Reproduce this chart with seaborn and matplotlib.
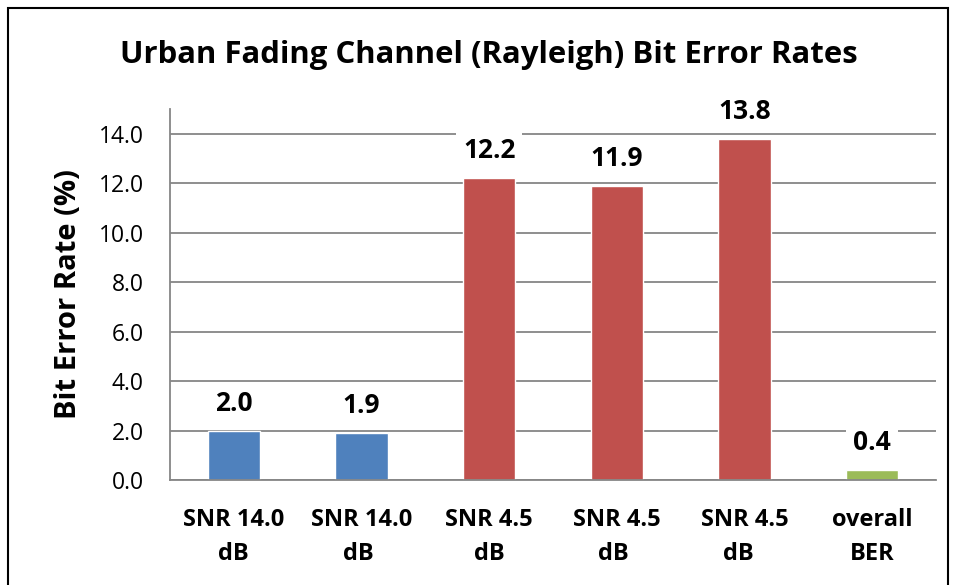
import matplotlib.pyplot as plt
import matplotlib.patches as patches
import pandas as pd
import seaborn as sns

# Valores
categorias = ['SNR 14.0\ndB', 'SNR 14.0\ndB ', 'SNR 4.5\ndB', 'SNR 4.5\ndB ', 'SNR 4.5\ndB  ', 'overall\nBER']
ber = [2.0, 1.9, 12.2, 11.9, 13.8, 0.4]
cores = ['#4F81BD', '#4F81BD', '#C0504D', '#C0504D', '#C0504D', '#9BBB59']

df = pd.DataFrame({'cat': categorias, 'ber': ber})

sns.set_style('white')
plt.rcParams['font.family'] = ['Open Sans', 'DejaVu Sans']
plt.rcParams['text.color'] = 'black'
plt.rcParams['axes.labelcolor'] = 'black'

fig = plt.figure(figsize=(9.58, 5.85), dpi=100)
ax = fig.add_axes([0.1775, 0.1795, 0.7995, 0.6342])

sns.barplot(data=df, x='cat', y='ber', hue='cat', palette=cores, legend=False,
            width=0.41, saturation=1, ax=ax)

# rótulos de valor com fundo branco (cortam as linhas de grade)
for cont, v in zip(ax.containers, ber):
    ax.bar_label(cont, labels=[f'{v:.1f}'], padding=10, fontsize=19, fontweight='bold',
                 color='black', bbox=dict(facecolor='white', edgecolor='none', pad=5))

ax.set_ylim(0, 15)
ax.set_xlim(-0.5, 5.5)
ax.set_yticks(range(0, 15, 2))
ax.set_yticklabels([f'{t:.1f}' for t in range(0, 15, 2)], fontsize=16.5)
ax.set_xticks(range(6))
ax.set_xticklabels(categorias, fontsize=17, fontweight='bold', linespacing=1.55)
ax.set_xticks([i - 0.5 for i in range(7)], minor=True)
ax.tick_params(axis='x', which='major', length=0, pad=20, labelcolor='black')
ax.tick_params(axis='x', which='minor', length=8, width=1.3, color='#868686', direction='out')
ax.tick_params(axis='y', length=8, width=1.3, color='#868686', direction='out', pad=11,
               labelcolor='black')

ax.yaxis.grid(True, color='#868686', linewidth=1.3)
ax.set_axisbelow(True)
for s in ['top', 'right']:
    ax.spines[s].set_visible(False)
for s in ['left', 'bottom']:
    ax.spines[s].set_color('#868686')
    ax.spines[s].set_linewidth(1.3)

ax.set_xlabel('')
ax.set_ylabel('Bit Error Rate (%)', fontsize=21, fontweight='bold', labelpad=11)

fig.text(489 / 958, 0.906, 'Urban Fading Channel (Rayleigh) Bit Error Rates',
         ha='center', va='center', fontsize=22.4, fontweight='bold', color='black')

# moldura preta do gráfico
fig.patches.append(patches.Rectangle((8 / 958, -0.1), 940 / 958, 1.1 - 8 / 585,
                                     transform=fig.transFigure, fill=False,
                                     edgecolor='black', linewidth=1.5))

fig.savefig('out.png', dpi=100)
